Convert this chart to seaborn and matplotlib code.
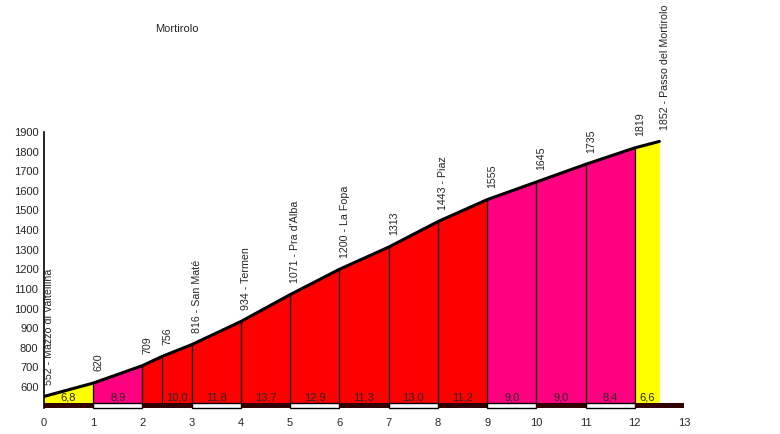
import matplotlib
matplotlib.use('Agg')
import matplotlib.pyplot as plt
import seaborn as sns
import pandas as pd

# profile points (km, altitude) and their labels
km = [0, 1, 2, 2.4, 3, 4, 5, 6, 7, 8, 9, 10, 11, 12, 12.5]
alt = [552, 620, 709, 756, 816, 934, 1071, 1200, 1313, 1443, 1555, 1645, 1735, 1819, 1852]
point_labels = ['552 - Mazzo di Valtellina', '620', '709', '756', '816 - San Maté',
                '934 - Termen', "1071 - Pra d'Alba", '1200 - La Fopa', '1313',
                '1443 - Piaz', '1555', '1645', '1735', '1819',
                '1852 - Passo del Mortirolo']

# gradient per segment (between consecutive points)
seg_grad = ['6,8', '8,9', '', '10,0', '11,8', '13,7', '12,9', '11,3', '13,0',
            '11,2', '9,0', '9,0', '8,4', '6,6']
seg_color = ['#FFFF00', '#FF0080', '#FF0000', '#FF0000', '#FF0000', '#FF0000',
             '#FF0000', '#FF0000', '#FF0000', '#FF0000', '#FF0080', '#FF0080',
             '#FF0080', '#FFFF00']

yticks = list(range(600, 2000, 100))
xticks = list(range(0, 14))

sns.set_style('white')
plt.rcParams['font.family'] = ['Liberation Sans', 'DejaVu Sans']

fig = plt.figure(figsize=(7.8, 4.34), dpi=100)
ax = fig.add_axes([44 / 780, 26 / 434, 640 / 780, 276 / 434])

base = 518
ymin = 493

for i in range(len(km) - 1):
    ax.fill_between([km[i], km[i + 1]], [alt[i], alt[i + 1]], base,
                    color=seg_color[i], lw=0)
    if seg_grad[i]:
        ax.text((km[i] + km[i + 1]) / 2, base + 3, seg_grad[i], ha='center',
                va='bottom', fontsize=8)

for i in range(1, len(km) - 1):
    ax.plot([km[i], km[i]], [base, alt[i]], color='black', lw=0.9)

df = pd.DataFrame({'km': km, 'alt': alt})
sns.lineplot(data=df, x='km', y='alt', color='black', lw=2.2, ax=ax)

for x, y, t in zip(km, alt, point_labels):
    ax.annotate(t, (x, y), xytext=(3.8, 8.5), textcoords='offset points',
                rotation=90, ha='center', va='bottom', fontsize=7.7)

# km strip along the bottom
for k in range(13):
    if k % 2 == 0:
        ax.bar(k, base - ymin, bottom=ymin, width=1, align='edge',
               color='#330000', lw=0, clip_on=False, zorder=3)
    else:
        ax.bar(k, base - ymin - 2, bottom=ymin + 1, width=1, align='edge',
               facecolor='white', edgecolor='black', lw=1.0, clip_on=False,
               zorder=3)

ax.set_xlim(0, 13)
ax.set_ylim(ymin, 1900)
ax.set_xticks(xticks)
ax.set_yticks(yticks)
ax.set_xlabel('')
ax.set_ylabel('')
ax.tick_params(axis='x', length=0, pad=7, labelsize=8)
ax.tick_params(axis='y', direction='in', length=3, width=1, color='red',
               pad=4, labelsize=8)
for s in ['top', 'right', 'bottom']:
    ax.spines[s].set_visible(False)
ax.spines['left'].set_color('black')
ax.spines['left'].set_linewidth(1.2)

fig.text(155 / 780, 1 - 29 / 434, 'Mortirolo', va='center', ha='left', fontsize=8)

fig.savefig('out.png', dpi=100)
